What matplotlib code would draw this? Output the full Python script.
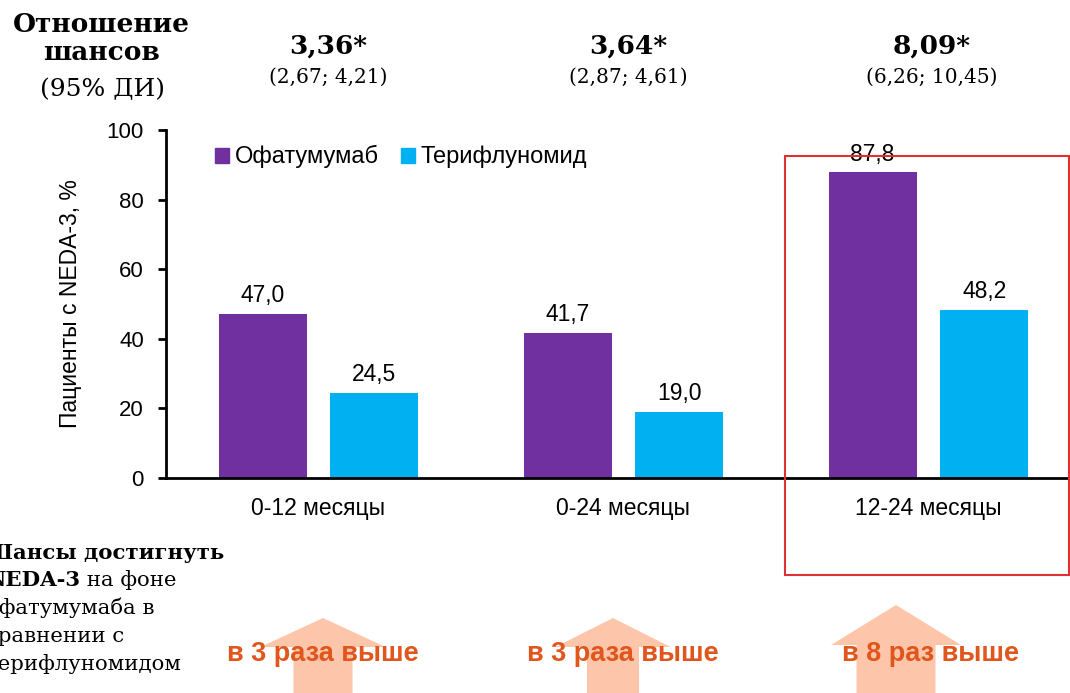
import matplotlib.pyplot as plt
from matplotlib.patches import Polygon, Rectangle, Patch

# data
periods = ['0-12 месяцы', '0-24 месяцы', '12-24 месяцы']
ofatumumab = [47.0, 41.7, 87.8]
teriflunomide = [24.5, 19.0, 48.2]
odds = ['3,36*', '3,64*', '8,09*']
ci = ['(2,67; 4,21)', '(2,87; 4,61)', '(6,26; 10,45)']
times = ['в 3 раза выше', 'в 3 раза выше', 'в 8 раз выше']

purple = '#7030A0'
cyan = '#00B0F0'
orange = '#E0561C'
arrow_col = '#FDC6AA'
sans = 'Liberation Sans'
serif = 'DejaVu Serif'

W, H = 1070, 693
fig = plt.figure(figsize=(W / 100, H / 100), dpi=100)


def fx(px):
    return px / W


def fy(py):
    return 1 - py / H


# axes placed so that the categories land where they are in the picture
ax = fig.add_axes([fx(166), fy(478), fx(915), (478 - 130) / H])
x = range(len(periods))
bw = 0.289
off = 0.183
b1 = ax.bar([i - off for i in x], ofatumumab, bw, color=purple, label='Офатумумаб')
b2 = ax.bar([i + off for i in x], teriflunomide, bw, color=cyan, label='Терифлуномид')
for bars in (b1, b2):
    for r in bars:
        v = r.get_height()
        ax.annotate(f'{v:.1f}'.replace('.', ','), (r.get_x() + r.get_width() / 2, v),
                    xytext=(0, 5), textcoords='offset points', ha='center', va='bottom',
                    fontsize=16.5, family=sans)

ax.set_xlim(-0.5, 2.5)
ax.set_ylim(0, 100)
ax.set_yticks(range(0, 101, 20))
ax.set_xticks(list(x))
ax.set_xticklabels(periods, fontsize=16.5, family=sans)
ax.tick_params(axis='x', length=0, pad=14)
ax.tick_params(axis='y', direction='out', length=6, width=2, labelsize=16, pad=10)
for t in ax.get_yticklabels():
    t.set_family(sans)
for s in ('top', 'right'):
    ax.spines[s].set_visible(False)
for s in ('left', 'bottom'):
    ax.spines[s].set_linewidth(2)
ax.set_ylabel('Пациенты с NEDA-3, %', fontsize=16.5, family=sans, labelpad=18)

ax.legend(handles=[Patch(color=purple, label='Офатумумаб'), Patch(color=cyan, label='Терифлуномид')],
          loc='upper left', bbox_to_anchor=(fx(194), fy(124)), bbox_transform=fig.transFigure,
          ncol=2, frameon=False, handlelength=0.6, handleheight=0.6, handletextpad=0.25,
          columnspacing=0.9, prop={'family': sans, 'size': 17})

# red highlight box
fig.patches.append(Rectangle((fx(785), fy(575)), fx(1069 - 785), (575 - 156) / H,
                             transform=fig.transFigure, fill=False, edgecolor='#E03030', lw=1.5))

# odds ratio header
fig.text(fx(101), fy(24), 'Отношение', ha='center', va='center', fontsize=19, fontweight='bold', family=serif)
fig.text(fx(101), fy(53), 'шансов', ha='center', va='center', fontsize=19, fontweight='bold', family=serif)
fig.text(fx(102), fy(90), '(95% ДИ)', ha='center', va='center', fontsize=18, family=serif)
centers = [328, 628, 932]
for c, o, ci_txt in zip(centers, odds, ci):
    fig.text(fx(c), fy(46), o, ha='center', va='center', fontsize=19, fontweight='bold', family=serif)
    fig.text(fx(c), fy(77), ci_txt, ha='center', va='center', fontsize=14.5, family=serif)

# arrows behind the "x times higher" captions
arrows = [(323, 618, 647, 59, 125), (613, 618, 647, 52, 115), (896, 605, 645, 79, 130)]
for cx, top, base, sw, hw in arrows:
    pts = [(cx, top), (cx + hw / 2, base), (cx + sw / 2, base), (cx + sw / 2, 700),
           (cx - sw / 2, 700), (cx - sw / 2, base), (cx - hw / 2, base)]
    fig.patches.append(Polygon([(fx(a), fy(b)) for a, b in pts], closed=True,
                               transform=fig.transFigure, color=arrow_col, lw=0, zorder=0))

for c, t in zip([323, 623, 930], times):
    fig.text(fx(c), fy(654), t, ha='center', va='center', fontsize=19.5, fontweight='bold',
             color=orange, family=sans)

# left caption, partly cut off by the picture edge (as in the source)
left = fx(-14)
fs = 15.3
fig.text(left, fy(553), 'Шансы достигнуть', ha='left', va='center', fontsize=fs, fontweight='bold', family=serif)
t1 = fig.text(left, fy(580), 'NEDA-3', ha='left', va='center', fontsize=fs, fontweight='bold', family=serif)
fig.canvas.draw()
bb = t1.get_window_extent()
fig.text(bb.x1 / W, fy(580), ' на фоне', ha='left', va='center', fontsize=fs, family=serif)
fig.text(left, fy(608), 'офатумумаба в', ha='left', va='center', fontsize=fs, family=serif)
fig.text(left, fy(636), 'сравнении с', ha='left', va='center', fontsize=fs, family=serif)
fig.text(left, fy(664), 'терифлуномидом', ha='left', va='center', fontsize=fs, family=serif)

fig.savefig('out.png', dpi=100)
